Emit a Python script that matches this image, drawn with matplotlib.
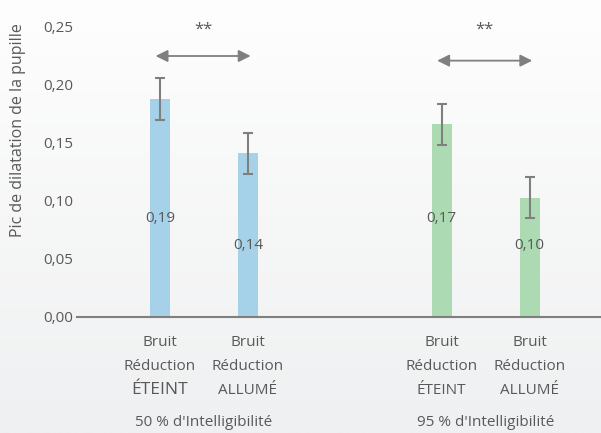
import matplotlib.pyplot as plt
import matplotlib.transforms as mtransforms
import numpy as np

plt.rcParams['font.family'] = ['Open Sans', 'DejaVu Sans']

# data
positions = [1.0, 2.0, 4.2, 5.2]
values = [0.188, 0.141, 0.166, 0.103]
errors = [0.018, 0.018, 0.018, 0.018]
value_labels = ["0,19", "0,14", "0,17", "0,10"]
label_y = [0.085, 0.062, 0.085, 0.062]
colors = ["#a5d2e9", "#a5d2e9", "#acdab3", "#acdab3"]
cat_lines = [["Bruit", "Réduction", "ÉTEINT"], ["Bruit", "Réduction", "ALLUMÉ"],
             ["Bruit", "Réduction", "ÉTEINT"], ["Bruit", "Réduction", "ALLUMÉ"]]
groups = ["50 % d'Intelligibilité", "95 % d'Intelligibilité"]
yticks = [0.0, 0.05, 0.10, 0.15, 0.20, 0.25]

txt = "#595959"
fig = plt.figure(figsize=(6.01, 4.33), dpi=100)

# light gradient background
bg = fig.add_axes([0, 0, 1, 1], zorder=-10)
grad = np.linspace(0, 1, 256).reshape(-1, 1)
bg.imshow(grad, aspect='auto', cmap=plt.matplotlib.colors.LinearSegmentedColormap.from_list(
    "bg", ["#fefefe", "#eff0f1"]), extent=[0, 1, 0, 1], origin='upper')
bg.axis('off')

ax = fig.add_axes([77 / 601, 1 - 317 / 433, 1 - 77 / 601, 290 / 433])
ax.patch.set_alpha(0)
ax.bar(positions, values, width=0.227, color=colors, zorder=2)
ax.errorbar(positions, values, yerr=errors, fmt='none', ecolor="#7f7f7f",
            elinewidth=1.5, capsize=3.5, capthick=1.5, zorder=3)
for x, y, s in zip(positions, label_y, value_labels):
    ax.text(x, y, s, ha='center', va='center', fontsize=11, color=txt, zorder=4)

ax.set_xlim(1 - 83 / 88, 1 + 441 / 88)
ax.set_ylim(0, 0.25)
ax.set_yticks(yticks)
ax.set_yticklabels([f"{v:.2f}".replace('.', ',') for v in yticks])
ax.tick_params(axis='y', length=0, pad=3, labelsize=11, labelcolor=txt)
ax.tick_params(axis='x', length=0, labelbottom=False)
for s in ['top', 'right', 'left']:
    ax.spines[s].set_visible(False)
ax.spines['bottom'].set_color("#7f7f7f")
ax.spines['bottom'].set_linewidth(1.5)
ax.set_ylabel("Pic de dilatation de la pupille", fontsize=11.5, color=txt)
ax.yaxis.set_label_coords(-0.097, 0.645)

# significance arrows
for (x0, x1, ya, ys) in [(positions[0] - 0.05, positions[1] + 0.03, 0.225, 0.248),
                         (positions[2] - 0.05, positions[3] + 0.03, 0.221, 0.248)]:
    ax.annotate("", xy=(x0, ya), xytext=(x1, ya),
                arrowprops=dict(arrowstyle="<|-|>", color="#7f7f7f", lw=1.3,
                                mutation_scale=18, shrinkA=0, shrinkB=0))
    ax.text((x0 + x1) / 2, ys, "**", ha='center', va='center', fontsize=12,
            color=txt)

# category labels below the axis
trans = mtransforms.blended_transform_factory(ax.transData, fig.transFigure)
line_y = [1 - 342 / 433, 1 - 366 / 433, 1 - 390 / 433]
for i, (x, lines) in enumerate(zip(positions, cat_lines)):
    for j, (ly, s) in enumerate(zip(line_y, lines)):
        fs = 12.5 if (i == 0 and j == 2) else 11
        ax.text(x, ly, s, ha='center', va='center', fontsize=fs, color=txt,
                transform=trans, clip_on=False)
for k, g in enumerate(groups):
    gx = (positions[2 * k] + positions[2 * k + 1]) / 2
    ax.text(gx, 1 - 423 / 433, g, ha='center', va='center', fontsize=11,
            color=txt, transform=trans, clip_on=False)

fig.savefig("out.png", dpi=100)
